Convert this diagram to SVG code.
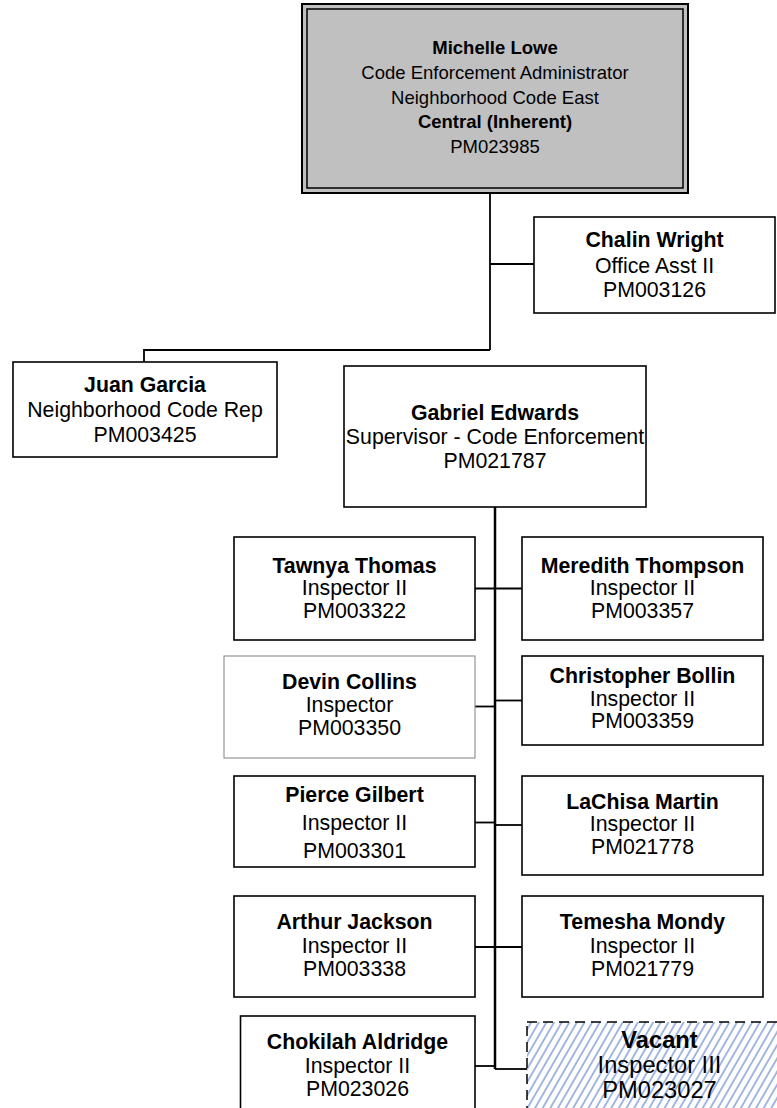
<svg xmlns="http://www.w3.org/2000/svg" width="777" height="1108" viewBox="0 0 777 1108">
<style>
text{font-family:"Liberation Sans",Arial,Helvetica,sans-serif;font-size:21.3px;fill:#000;text-anchor:middle}
.b{font-weight:bold}
.top text{font-size:18.5px}
.box{fill:#fff;stroke:#000;stroke-width:1.6}
.light{fill:#fff;stroke:#808080;stroke-width:1}
.conn{fill:none;stroke:#000;stroke-width:1.8}
.trunk{fill:none;stroke:#000;stroke-width:2.5}
.vac text{font-size:23.7px}
</style>
<defs>
<pattern id="hatch" patternUnits="userSpaceOnUse" width="6.6" height="10" patternTransform="rotate(30)">
<rect width="6.6" height="10" fill="#fff"/>
<line x1="1" y1="0" x2="1" y2="10" stroke="#86a2da" stroke-width="1.5"/>
</pattern>
</defs>
<rect width="777" height="1108" fill="#fff"/>
<g id="connectors">
<path class="conn" d="M490,193V350"/>
<path class="conn" d="M490,264H534"/>
<path class="conn" d="M490,350H144V362"/>
<path class="trunk" d="M495,507V1069"/>
<path class="conn" d="M475,588.5H522"/>
<path class="conn" d="M475,706.5H495" stroke="#555"/>
<path class="conn" d="M495,700.5H522"/>
<path class="conn" d="M475,822.5H495"/>
<path class="conn" d="M495,825H522"/>
<path class="conn" d="M475,947H522"/>
<path class="conn" d="M475,1066H495"/>
<path class="conn" d="M495,1069H527"/>
</g>
<g id="n-lowe" class="top">
<rect x="302" y="4" width="386" height="189" fill="#c0c0c0" stroke="#000" stroke-width="2"/>
<rect x="307" y="9" width="376" height="179" fill="#c0c0c0" stroke="#000" stroke-width="1.5"/>
<text x="495" y="54" class="b">Michelle Lowe</text>
<text x="495" y="79">Code Enforcement Administrator</text>
<text x="495" y="103.5">Neighborhood Code East</text>
<text x="495" y="128" class="b">Central (Inherent)</text>
<text x="495" y="153">PM023985</text>
</g>
<g id="n-wright">
<rect class="box" x="534" y="217" width="241" height="96"/>
<text x="654.5" y="246.5" class="b">Chalin Wright</text>
<text x="654.5" y="272.5">Office Asst II</text>
<text x="654.5" y="296.5">PM003126</text>
</g>
<g id="n-garcia">
<rect class="box" x="13" y="362" width="264" height="95"/>
<text x="145" y="391.5" class="b">Juan Garcia</text>
<text x="145" y="417">Neighborhood Code Rep</text>
<text x="145" y="441.5">PM003425</text>
</g>
<g id="n-edwards">
<rect class="box" x="344" y="366" width="302" height="141"/>
<text x="495" y="419.5" class="b">Gabriel Edwards</text>
<text x="495" y="444">Supervisor - Code Enforcement</text>
<text x="495" y="467.5">PM021787</text>
</g>
<g id="n-thomas">
<rect class="box" x="234" y="537" width="241" height="103"/>
<text x="354.5" y="572.5" class="b">Tawnya Thomas</text>
<text x="354.5" y="595">Inspector II</text>
<text x="354.5" y="617.5">PM003322</text>
</g>
<g id="n-thompson">
<rect class="box" x="522" y="537" width="241" height="103"/>
<text x="642.5" y="572.5" class="b">Meredith Thompson</text>
<text x="642.5" y="595">Inspector II</text>
<text x="642.5" y="617.5">PM003357</text>
</g>
<g id="n-collins">
<rect class="light" x="224" y="656" width="251" height="102"/>
<text x="349.5" y="688.5" class="b">Devin Collins</text>
<text x="349.5" y="711.5">Inspector</text>
<text x="349.5" y="734.5">PM003350</text>
</g>
<g id="n-bollin">
<rect class="box" x="522" y="656" width="241" height="89"/>
<text x="642.5" y="683" class="b">Christopher Bollin</text>
<text x="642.5" y="705.5">Inspector II</text>
<text x="642.5" y="728">PM003359</text>
</g>
<g id="n-gilbert">
<rect class="box" x="234" y="776" width="241" height="91"/>
<text x="354.5" y="802" class="b">Pierce Gilbert</text>
<text x="354.5" y="830">Inspector II</text>
<text x="354.5" y="857.5">PM003301</text>
</g>
<g id="n-martin">
<rect class="box" x="522" y="776" width="241" height="99"/>
<text x="642.5" y="808.5" class="b">LaChisa Martin</text>
<text x="642.5" y="831">Inspector II</text>
<text x="642.5" y="853.5">PM021778</text>
</g>
<g id="n-jackson">
<rect class="box" x="234" y="896" width="241" height="101"/>
<text x="354.5" y="929" class="b">Arthur Jackson</text>
<text x="354.5" y="952.5">Inspector II</text>
<text x="354.5" y="976">PM003338</text>
</g>
<g id="n-mondy">
<rect class="box" x="522" y="896" width="241" height="101"/>
<text x="642.5" y="929" class="b">Temesha Mondy</text>
<text x="642.5" y="952.5">Inspector II</text>
<text x="642.5" y="976">PM021779</text>
</g>
<g id="n-aldridge">
<rect class="box" x="240.5" y="1016" width="234.5" height="100"/>
<text x="357.5" y="1049" class="b">Chokilah Aldridge</text>
<text x="357.5" y="1072.5">Inspector II</text>
<text x="357.5" y="1096">PM023026</text>
</g>
<g id="n-vacant" class="vac">
<rect x="527" y="1022" width="265" height="94" fill="url(#hatch)" stroke="#000" stroke-width="1.5" stroke-dasharray="10,6"/>
<text x="659.5" y="1048" class="b">Vacant</text>
<text x="659.5" y="1073">Inspector III</text>
<text x="659.5" y="1097.5">PM023027</text>
</g>
</svg>
